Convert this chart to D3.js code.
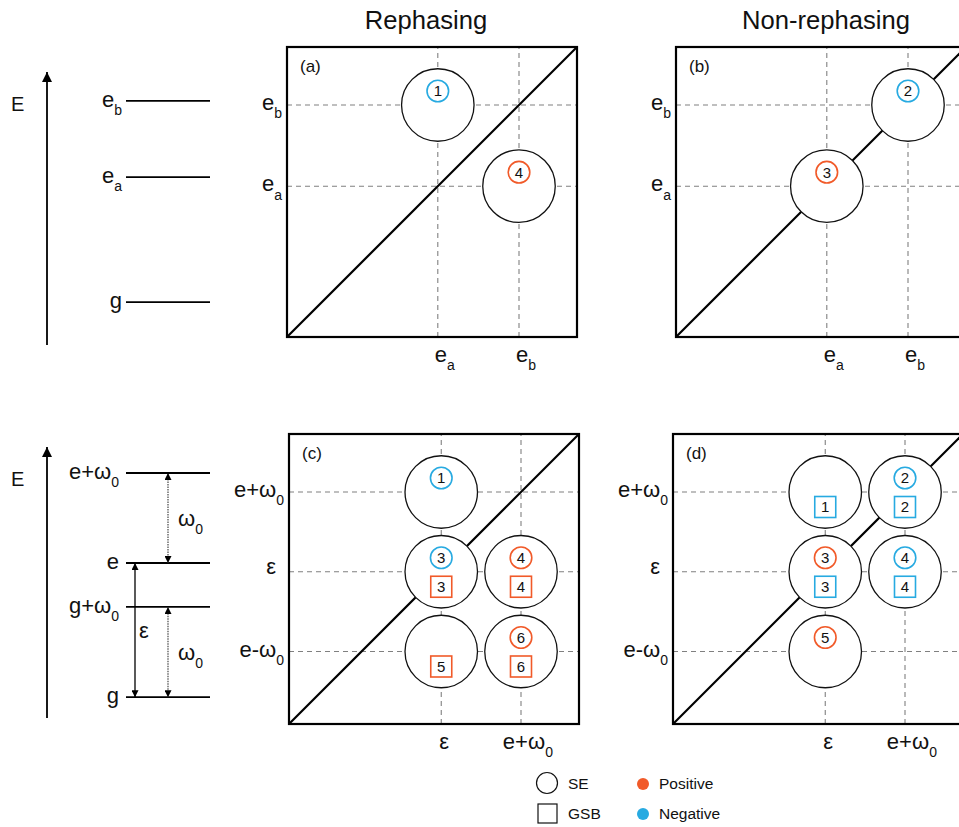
<!DOCTYPE html>
<html><head><meta charset="utf-8">
<script src="https://cdn.jsdelivr.net/npm/d3@7"></script>
<style>body{margin:0;background:#fff} svg{display:block;font-family:"Liberation Sans",Arial,Helvetica,sans-serif}</style>
</head><body><svg id="c" width="959" height="827"></svg>
<script>
// ---------- DATA ----------
const titles = ["Rephasing", "Non-rephasing"];
const panelLabels = ["(a)", "(b)", "(c)", "(d)"];

// upper panels (a,b): axis positions (units of a 0-10 frequency scale)
const upperTickValues = [5.2, 8.0];
const upperTickMain = ["e", "e"];
const upperTickSub = ["a", "b"];

// lower panels (c,d)
const lowerXTickValues = [5.25, 8.0];
const lowerXTickMain = ["ε", "e+ω"];
const lowerXTickSub = ["", "0"];
const lowerYTickValues = [2.5, 5.25, 8.0];
const lowerYTickMain = ["e-ω", "ε", "e+ω"];
const lowerYTickSub = ["0", "", "0"];

const peakRadius = 1.25;
// peaks: x, y, SE marker (number, sign), GSB marker (number, sign)
const peaksA = [
  {x: 5.2, y: 8.0, se: [1, "neg"], gsb: null},
  {x: 8.0, y: 5.2, se: [4, "pos"], gsb: null}
];
const peaksB = [
  {x: 5.2, y: 5.2, se: [3, "pos"], gsb: null},
  {x: 8.0, y: 8.0, se: [2, "neg"], gsb: null}
];
const peaksC = [
  {x: 5.25, y: 8.0, se: [1, "neg"], gsb: null},
  {x: 5.25, y: 5.25, se: [3, "neg"], gsb: [3, "pos"]},
  {x: 8.0, y: 5.25, se: [4, "pos"], gsb: [4, "pos"]},
  {x: 5.25, y: 2.5, se: null, gsb: [5, "pos"]},
  {x: 8.0, y: 2.5, se: [6, "pos"], gsb: [6, "pos"]}
];
const peaksD = [
  {x: 5.25, y: 8.0, se: null, gsb: [1, "neg"]},
  {x: 8.0, y: 8.0, se: [2, "neg"], gsb: [2, "neg"]},
  {x: 5.25, y: 5.25, se: [3, "pos"], gsb: [3, "neg"]},
  {x: 8.0, y: 5.25, se: [4, "neg"], gsb: [4, "neg"]},
  {x: 5.25, y: 2.5, se: [5, "pos"], gsb: null}
];

// energy level diagrams (0-10 energy scale)
const levelsTopMain = ["e", "e", "g"];
const levelsTopSub = ["b", "a", ""];
const levelsTopE = [8.94, 6.15, 1.57];
const levelsBotMain = ["e+ω", "e", "g+ω", "g"];
const levelsBotSub = ["0", "", "0", ""];
const levelsBotE = [9.04, 5.72, 4.10, 0.77];
// transitions: from level index, to level index, label
const transFrom = [3, 1, 3];
const transTo = [1, 0, 2];
const transMain = ["ε", "ω", "ω"];
const transSub = ["", "0", "0"];
const transStyle = ["solid", "dotted", "dotted"];

const legendShapes = ["SE", "GSB"];
const legendSigns = ["Positive", "Negative"];

// ---------- STYLE ----------
const COL = {pos: "#F15A29", neg: "#27AAE1"};
const S = 290;

const svg = d3.select("#c");
const defs = svg.append("defs");
function marker(id, w, h) {
  defs.append("marker").attr("id", id).attr("viewBox", "0 0 10 10")
    .attr("refX", 10).attr("refY", 5).attr("markerWidth", w).attr("markerHeight", h)
    .attr("markerUnits", "userSpaceOnUse").attr("orient", "auto-start-reverse")
    .append("path").attr("d", "M0,0L10,5L0,10Z").attr("fill", "#000");
}
marker("bigArrow", 13, 10);
marker("smallArrow", 8, 7);

// label with optional subscript; align: "end", "start", "mainmid"
function lab(g, x, y, main, sub, size, align) {
  const t = g.append("text").attr("y", y).attr("font-size", size).attr("fill", "#111");
  const m = t.append("tspan").text(main);
  if (sub) t.append("tspan").attr("font-size", Math.round(size * 0.62)).attr("dy", size * 0.38).text(sub);
  const total = t.node().getComputedTextLength();
  const mw = m.node().getComputedTextLength();
  let x0 = x;
  if (align === "end") x0 = x - total;
  else if (align === "mainmid") x0 = x - mw / 2;
  t.attr("x", x0);
  m.attr("x", x0);
  return t;
}

// ---------- TITLES ----------
svg.selectAll(".title").data(titles).join("text")
  .attr("x", (d, i) => [426, 826][i]).attr("y", 29)
  .attr("text-anchor", "middle").attr("font-size", 25.6).attr("fill", "#111").text(d => d);

// ---------- PANELS ----------
const panels = [
  {left: 287, top: 47, xv: upperTickValues, xm: upperTickMain, xs: upperTickSub,
   yv: upperTickValues, ym: upperTickMain, ys: upperTickSub, peaks: peaksA},
  {left: 676, top: 47, xv: upperTickValues, xm: upperTickMain, xs: upperTickSub,
   yv: upperTickValues, ym: upperTickMain, ys: upperTickSub, peaks: peaksB},
  {left: 289, top: 434, xv: lowerXTickValues, xm: lowerXTickMain, xs: lowerXTickSub,
   yv: lowerYTickValues, ym: lowerYTickMain, ys: lowerYTickSub, peaks: peaksC},
  {left: 673, top: 434, xv: lowerXTickValues, xm: lowerXTickMain, xs: lowerXTickSub,
   yv: lowerYTickValues, ym: lowerYTickMain, ys: lowerYTickSub, peaks: peaksD}
];

panels.forEach((p, pi) => {
  const x = d3.scaleLinear().domain([0, 10]).range([p.left, p.left + S]);
  const y = d3.scaleLinear().domain([0, 10]).range([p.top + S, p.top]);
  const g = svg.append("g");
  const dash = {stroke: "#808080", "stroke-width": 1.1, "stroke-dasharray": "5,4"};
  const vl = g.selectAll(".vx").data(p.xv).join("line")
    .attr("x1", d => x(d)).attr("x2", d => x(d)).attr("y1", y(0)).attr("y2", y(10));
  const hl = g.selectAll(".hy").data(p.yv).join("line")
    .attr("y1", d => y(d)).attr("y2", d => y(d)).attr("x1", x(0)).attr("x2", x(10));
  [vl, hl].forEach(s => Object.entries(dash).forEach(([k, v]) => s.attr(k, v)));

  g.append("line").attr("x1", x(0)).attr("y1", y(0)).attr("x2", x(10)).attr("y2", y(10))
    .attr("stroke", "#000").attr("stroke-width", 2.2);

  const r = x(peakRadius) - x(0);
  const pk = g.selectAll(".pk").data(p.peaks).join("g")
    .attr("transform", d => `translate(${x(d.x)},${y(d.y)})`);
  pk.append("circle").attr("r", r).attr("fill", "#fff").attr("stroke", "#111").attr("stroke-width", 1.3);
  const se = pk.filter(d => d.se);
  se.append("circle").attr("cy", -14).attr("r", 10.8).attr("fill", "#fff")
    .attr("stroke", d => COL[d.se[1]]).attr("stroke-width", 1.6);
  se.append("text").attr("y", -14).attr("dy", "0.36em").attr("text-anchor", "middle")
    .attr("font-size", 15).attr("fill", "#111").text(d => d.se[0]);
  const gs = pk.filter(d => d.gsb);
  gs.append("rect").attr("x", -10.5).attr("y", 4.5).attr("width", 21).attr("height", 21)
    .attr("fill", "#fff").attr("stroke", d => COL[d.gsb[1]]).attr("stroke-width", 1.6);
  gs.append("text").attr("y", 15).attr("dy", "0.36em").attr("text-anchor", "middle")
    .attr("font-size", 15).attr("fill", "#111").text(d => d.gsb[0]);

  g.append("rect").attr("x", x(0)).attr("y", y(10)).attr("width", S).attr("height", S)
    .attr("fill", "none").attr("stroke", "#000").attr("stroke-width", 2.2);

  g.append("text").attr("x", x(0) + 13).attr("y", y(10) + 25).attr("font-size", 17)
    .attr("fill", "#111").text(panelLabels[pi]);

  p.xv.forEach((v, i) => lab(g, x(v) + 3, y(0) + 25, p.xm[i], p.xs[i], 22, "mainmid"));
  p.yv.forEach((v, i) => lab(g, x(0) - (p.ys[i] ? 5 : 13), y(v) + (p.ys[i] ? 5 : 2), p.ym[i], p.ys[i], 22, "end"));
});

// ---------- ENERGY DIAGRAMS ----------
function energyDiagram(top, bottom, mains, subs, Es, labelRight) {
  const e = d3.scaleLinear().domain([0, 10]).range([bottom, top]);
  const g = svg.append("g");
  g.append("line").attr("x1", 47).attr("x2", 47).attr("y1", e(0)).attr("y2", e(10))
    .attr("stroke", "#000").attr("stroke-width", 1.8).attr("marker-end", "url(#bigArrow)");
  g.append("text").attr("x", 11).attr("y", e(10) + 39).attr("font-size", 20).attr("fill", "#111").text("E");
  g.selectAll(".lv").data(Es).join("line")
    .attr("x1", 126).attr("x2", 210).attr("y1", d => e(d)).attr("y2", d => e(d))
    .attr("stroke", "#000").attr("stroke-width", 1.8);
  Es.forEach((v, i) => lab(g, labelRight, e(v) + 6, mains[i], subs[i], 22, "end"));
  return {g, e};
}
energyDiagram(72, 345, levelsTopMain, levelsTopSub, levelsTopE, 122);
const bot = energyDiagram(447, 718, levelsBotMain, levelsBotSub, levelsBotE, 119);
transFrom.forEach((f, i) => {
  const ax = transStyle[i] === "solid" ? 135 : 168;
  const y1 = bot.e(levelsBotE[f]), y2 = bot.e(levelsBotE[transTo[i]]);
  const ln = bot.g.append("line").attr("x1", ax).attr("x2", ax).attr("y1", y1).attr("y2", y2)
    .attr("stroke", transStyle[i] === "solid" ? "#000" : "#333")
    .attr("stroke-width", transStyle[i] === "solid" ? 1.3 : 1.1)
    .attr("marker-start", "url(#smallArrow)").attr("marker-end", "url(#smallArrow)");
  if (transStyle[i] !== "solid") ln.attr("stroke-dasharray", "1.5,1");
  const mid = (y1 + y2) / 2;
  lab(bot.g, ax + (transStyle[i] === "solid" ? 4 : 10), mid + 8, transMain[i], transSub[i], 22, "start");
});

// ---------- LEGEND ----------
const lg = svg.append("g");
lg.append("circle").attr("cx", 547).attr("cy", 783).attr("r", 10.5).attr("fill", "none").attr("stroke", "#111").attr("stroke-width", 1.2);
lg.append("rect").attr("x", 538).attr("y", 804).attr("width", 19).attr("height", 19).attr("fill", "none").attr("stroke", "#111").attr("stroke-width", 1.2);
lg.selectAll(".ls").data(legendShapes).join("text").attr("x", 568).attr("y", (d, i) => 789 + i * 30)
  .attr("font-size", 15.5).attr("fill", "#111").text(d => d);
lg.selectAll(".dot").data(legendSigns).join("circle").attr("cx", 643).attr("cy", (d, i) => 784 + i * 30)
  .attr("r", 6).attr("fill", (d, i) => i ? COL.neg : COL.pos);
lg.selectAll(".lsg").data(legendSigns).join("text").attr("x", 659).attr("y", (d, i) => 789 + i * 30)
  .attr("font-size", 15.5).attr("fill", "#111").text(d => d);
</script></body></html>
